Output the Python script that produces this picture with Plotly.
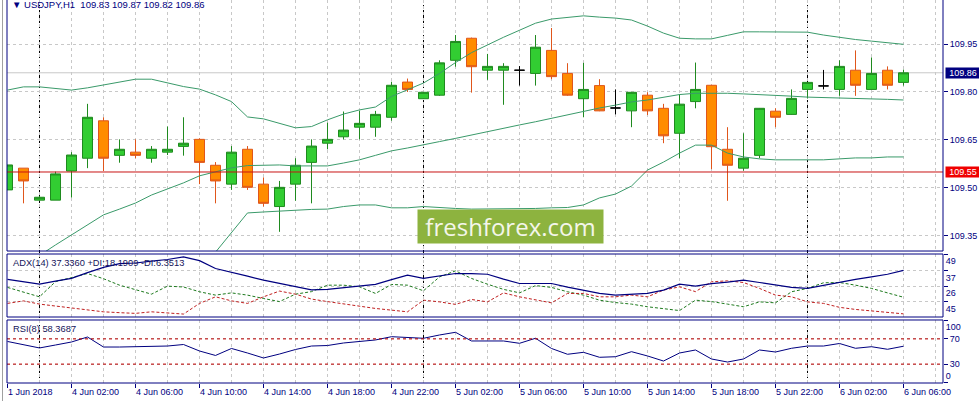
import plotly.graph_objects as go

# ---------------- data ----------------
bars = list(range(-2, 55))  # hourly bars, 0 = 4 Jun 00:00

open_ = [109.494, 109.562, 109.462, 109.462, 109.553, 109.593, 109.710, 109.602, 109.612, 109.593,
         109.612, 109.630, 109.652, 109.571, 109.512, 109.621, 109.512, 109.442, 109.512, 109.580,
         109.640, 109.660, 109.690, 109.690, 109.721, 109.831, 109.779, 109.790, 109.899, 109.968,
         109.868, 109.868, 109.868, 109.858, 109.930, 109.858, 109.779, 109.820, 109.750, 109.741,
         109.790, 109.749, 109.671, 109.770, 109.821, 109.621, 109.562, 109.602, 109.740, 109.730,
         109.808, 109.819, 109.808, 109.868, 109.808, 109.868, 109.830]
high_ = [109.572, 109.562, 109.475, 109.551, 109.612, 109.763, 109.721, 109.652, 109.652, 109.631,
         109.692, 109.721, 109.655, 109.581, 109.631, 109.631, 109.533, 109.522, 109.593, 109.652,
         109.704, 109.739, 109.741, 109.741, 109.832, 109.842, 109.800, 109.899, 109.978, 109.970,
         109.919, 109.890, 109.881, 109.978, 110.000, 109.890, 109.891, 109.840, 109.808, 109.800,
         109.799, 109.763, 109.793, 109.892, 109.822, 109.690, 109.671, 109.750, 109.749, 109.808,
         109.831, 109.869, 109.899, 109.930, 109.908, 109.880, 109.870]
low_ = [109.494, 109.452, 109.460, 109.462, 109.470, 109.562, 109.553, 109.579, 109.593, 109.579,
        109.603, 109.601, 109.512, 109.452, 109.494, 109.494, 109.442, 109.363, 109.460, 109.452,
        109.621, 109.652, 109.652, 109.660, 109.710, 109.800, 109.778, 109.788, 109.879, 109.798,
        109.838, 109.760, 109.820, 109.820, 109.840, 109.788, 109.721, 109.740, 109.730, 109.690,
        109.728, 109.640, 109.593, 109.749, 109.559, 109.460, 109.554, 109.593, 109.690, 109.729,
        109.780, 109.808, 109.788, 109.788, 109.807, 109.808, 109.820]
close_ = [109.572, 109.522, 109.471, 109.544, 109.603, 109.721, 109.593, 109.621, 109.602, 109.621,
          109.621, 109.640, 109.580, 109.522, 109.612, 109.502, 109.452, 109.502, 109.571, 109.631,
          109.652, 109.681, 109.702, 109.730, 109.821, 109.808, 109.799, 109.891, 109.958, 109.879,
          109.880, 109.880, 109.868, 109.940, 109.848, 109.790, 109.808, 109.741, 109.750, 109.799,
          109.741, 109.663, 109.762, 109.808, 109.629, 109.571, 109.593, 109.749, 109.721, 109.780,
          109.830, 109.819, 109.880, 109.821, 109.858, 109.821, 109.860]

bb_upper = [109.806, 109.816, 109.816, 109.811, 109.806, 109.813, 109.822, 109.831, 109.840, 109.840,
            109.828, 109.817, 109.809, 109.791, 109.770, 109.722, 109.716, 109.702, 109.688, 109.692,
            109.713, 109.731, 109.744, 109.753, 109.786, 109.807, 109.828, 109.858, 109.892, 109.923,
            109.948, 109.971, 109.993, 110.015, 110.028, 110.033, 110.038, 110.034, 110.031, 110.025,
            110.006, 109.984, 109.968, 109.966, 109.966, 109.977, 109.988, 109.988, 109.988, 109.987,
            109.987, 109.978, 109.970, 109.964, 109.959, 109.953, 109.949]
bb_middle = [109.225, 109.256, 109.289, 109.322, 109.353, 109.384, 109.416, 109.434, 109.453, 109.478,
             109.497, 109.516, 109.538, 109.550, 109.563, 109.570, 109.572, 109.572, 109.569, 109.569,
             109.569, 109.578, 109.588, 109.602, 109.616, 109.625, 109.634, 109.645, 109.655, 109.666,
             109.676, 109.687, 109.697, 109.707, 109.718, 109.728, 109.738, 109.750, 109.759, 109.769,
             109.775, 109.784, 109.792, 109.796, 109.797, 109.796, 109.794, 109.792, 109.791, 109.787,
             109.784, 109.783, 109.781, 109.780, 109.778, 109.777, 109.775]
bb_lower = [None, None, None, None, None, None, None, None, None, None,
            None, None, 109.238, 109.300, 109.362, 109.422, 109.425, 109.428, 109.431, 109.433,
            109.434, 109.442, 109.447, 109.447, 109.438, 109.438, 109.442, 109.438, 109.436, 109.434,
            109.434, 109.434, 109.434, 109.436, 109.438, 109.439, 109.447, 109.469, 109.481, 109.506,
            109.556, 109.581, 109.609, 109.634, 109.634, 109.609, 109.597, 109.591, 109.588, 109.588,
            109.588, 109.588, 109.591, 109.594, 109.594, 109.597, 109.597]

adx = [30.9, 29.3, 27.5, 29.7, 31.6, 35.7, 39.5, 42.2, 42.6, 43.9,
       45.1, 47.0, 44.3, 38.7, 36.2, 33.2, 30.4, 27.9, 25.6, 23.4,
       23.8, 25.0, 26.1, 27.4, 30.8, 33.9, 31.7, 33.2, 35.1, 35.1,
       34.6, 31.1, 28.0, 28.0, 28.0, 25.4, 23.3, 20.9, 19.7, 20.4,
       20.9, 23.3, 27.5, 26.1, 27.9, 29.0, 30.4, 28.7, 26.8, 25.2,
       24.5, 26.8, 28.7, 30.9, 32.7, 34.6, 37.34]
plus_di = [25.2, 21.8, 18.5, 29.3, 32.3, 35.1, 31.4, 26.8, 23.6, 20.4,
           26.1, 25.5, 22.1, 19.7, 21.3, 19.7, 17.3, 15.1, 20.4, 22.2,
           26.8, 26.8, 25.6, 20.9, 27.3, 26.8, 22.8, 32.7, 37.0, 31.6,
           27.5, 23.8, 21.3, 26.5, 25.2, 22.1, 19.7, 16.1, 14.4, 13.3,
           11.4, 10.1, 8.7, 16.1, 15.1, 13.3, 11.4, 14.9, 14.2, 22.1,
           24.5, 28.5, 28.7, 26.8, 24.5, 21.3, 18.19]
minus_di = [13.8, 15.6, 13.3, 11.9, 10.2, 9.0, 7.8, 7.2, 6.7, 7.8,
            6.9, 6.2, 13.8, 18.5, 15.6, 13.8, 18.5, 22.6, 20.4, 16.9,
            15.1, 13.3, 11.5, 10.2, 9.0, 7.8, 16.1, 14.9, 13.1, 16.6,
            14.9, 21.3, 18.5, 16.1, 14.2, 20.9, 20.9, 18.5, 18.5, 19.7,
            18.5, 23.3, 25.6, 22.2, 29.2, 29.9, 28.7, 24.5, 19.7, 18.5,
            14.9, 13.8, 11.0, 9.5, 8.5, 7.8, 6.35]
rsi = [65.9, 60.3, 55.6, 60.3, 65.1, 73.0, 57.1, 57.1, 57.9, 57.9,
       58.7, 61.1, 50.8, 43.7, 54.8, 47.6, 39.7, 46.0, 53.2, 58.7,
       59.5, 63.5, 65.6, 68.3, 73.5, 72.2, 71.0, 76.2, 80.5, 66.7,
       66.7, 66.7, 63.0, 71.0, 54.8, 45.6, 48.7, 40.8, 41.7, 49.7,
       42.9, 34.9, 47.6, 52.4, 38.1, 33.3, 38.1, 52.4, 49.2, 55.1,
       58.7, 58.7, 62.7, 55.1, 57.6, 53.5, 58.37]

time_tick_bars = [-2, 2, 6, 10, 14, 18, 22, 26, 30, 34, 38, 42, 46, 50, 54]
time_tick_labels = ["1 Jun 2018", "4 Jun 02:00", "4 Jun 06:00", "4 Jun 10:00", "4 Jun 14:00",
                    "4 Jun 18:00", "4 Jun 22:00", "5 Jun 02:00", "5 Jun 06:00", "5 Jun 10:00",
                    "5 Jun 14:00", "5 Jun 18:00", "5 Jun 22:00", "6 Jun 02:00", "6 Jun 06:00"]
day_separators = [0, 24, 48]
price_ticks = [109.35, 109.50, 109.65, 109.80, 109.95]
price_tick_labels = ["109.35", "109.50", "109.65", "109.80", "109.95"]
adx_ticks = [49, 37, 26, 15]
adx_tick_labels = ["49", "37", "26", "45"]
rsi_levels = [70, 30]
bid_price = 109.86
hline_price = 109.55
header_text = "\u25bc USDJPY,H1\u00a0\u00a0109.83 109.87 109.82 109.86"
adx_text = "ADX(14) 37.3360 +DI:18.1909 -DI:6.3513"
rsi_text = "RSI(8) 58.3687"

# ---------------- styling ----------------
NAVY = "#000080"
GRID = "#C8C8C8"
FONT = "Liberation Sans, Arial, sans-serif"
BAND = "#3A9A6A"

reg = [k for k in range(len(bars)) if open_[k] != close_[k]]
doj = [k for k in range(len(bars)) if open_[k] == close_[k]]

fig = go.Figure()

for band in (bb_upper, bb_middle, bb_lower):
    fig.add_trace(go.Scatter(x=bars, y=band, mode="lines", line=dict(color=BAND, width=1),
                             hoverinfo="skip", showlegend=False, xaxis="x", yaxis="y"))

fig.add_trace(go.Candlestick(
    x=[bars[k] for k in reg], open=[open_[k] for k in reg], high=[high_[k] for k in reg],
    low=[low_[k] for k in reg], close=[close_[k] for k in reg],
    increasing=dict(line=dict(color="#1F8A1F", width=1), fillcolor="#32CD32"),
    decreasing=dict(line=dict(color="#E0561B", width=1), fillcolor="#FF8C00"),
    whiskerwidth=0, hoverinfo="skip", showlegend=False, xaxis="x", yaxis="y"))
fig.add_trace(go.Candlestick(
    x=[bars[k] for k in doj], open=[open_[k] for k in doj], high=[high_[k] for k in doj],
    low=[low_[k] for k in doj], close=[close_[k] for k in doj],
    increasing=dict(line=dict(color="#000000", width=1), fillcolor="#000000"),
    decreasing=dict(line=dict(color="#000000", width=1), fillcolor="#000000"),
    whiskerwidth=0, hoverinfo="skip", showlegend=False, xaxis="x", yaxis="y"))

fig.add_trace(go.Scatter(x=bars, y=plus_di, mode="lines", line=dict(color="#1E7A1E", width=1, dash="3px,2px"),
                         hoverinfo="skip", showlegend=False, xaxis="x", yaxis="y2"))
fig.add_trace(go.Scatter(x=bars, y=minus_di, mode="lines", line=dict(color="#C02020", width=1, dash="3px,2px"),
                         hoverinfo="skip", showlegend=False, xaxis="x", yaxis="y2"))
fig.add_trace(go.Scatter(x=bars, y=adx, mode="lines", line=dict(color=NAVY, width=1.2),
                         hoverinfo="skip", showlegend=False, xaxis="x", yaxis="y2"))
fig.add_trace(go.Scatter(x=bars, y=rsi, mode="lines", line=dict(color=NAVY, width=1),
                         hoverinfo="skip", showlegend=False, xaxis="x", yaxis="y3"))
# carriers for the extra RSI label axes
fig.add_trace(go.Scatter(x=[None], y=[None], hoverinfo="skip", showlegend=False, xaxis="x", yaxis="y4"))
fig.add_trace(go.Scatter(x=[None], y=[None], hoverinfo="skip", showlegend=False, xaxis="x", yaxis="y5"))

# geometry (plot area 936 x 383 px)
D_MAIN = [0.3446, 1.0]
D_ADX = [0.1723, 0.3368]
D_RSI = [0.0, 0.1645]

tickfont = dict(family=FONT, size=9, color=NAVY)
yax_common = dict(side="right", anchor="x", ticks="outside", ticklen=4, tickcolor=NAVY, tickwidth=1,
                  tickfont=tickfont, showgrid=True, gridcolor=GRID, gridwidth=1, griddash="3px,3px",
                  zeroline=False, showline=False, fixedrange=True)

fig.update_layout(
    width=979, height=401,
    margin=dict(l=7, r=36, t=0, b=18),
    paper_bgcolor="white", plot_bgcolor="white",
    hovermode=False, showlegend=False,
    boxgap=0.375, boxgroupgap=0,
    xaxis=dict(domain=[0, 1], range=[-2.031, 56.469], anchor="y3",
               tickmode="array", tickvals=time_tick_bars, ticktext=time_tick_labels,
               ticks="outside", ticklen=4, tickcolor=NAVY, tickwidth=1,
               ticklabelposition="outside right", tickfont=tickfont,
               showgrid=True, gridcolor=GRID, gridwidth=1, griddash="3px,3px",
               minor=dict(tickmode="linear", tick0=0, dtick=2, showgrid=True, gridcolor=GRID,
                          gridwidth=1, griddash="3px,3px", ticks=""),
               zeroline=False, showline=False, rangeslider=dict(visible=False), fixedrange=True),
    yaxis=dict(domain=D_MAIN, range=[109.303, 110.0875], tickmode="array",
               tickvals=price_ticks, ticktext=price_tick_labels, **yax_common),
    yaxis2=dict(domain=D_ADX, range=[4.1, 49.02], tickmode="array",
                tickvals=adx_ticks, ticktext=adx_tick_labels, ticklabelposition="outside bottom",
                **yax_common),
    yaxis3=dict(domain=D_RSI, range=[0, 100], tickmode="array",
                tickvals=rsi_levels, ticktext=[str(v) for v in rsi_levels], **yax_common),
    yaxis4=dict(overlaying="y3", range=[-0.05, 100.05], tickmode="array", tickvals=[100], ticktext=["100"],
                ticklabelposition="outside bottom", **{**yax_common, "showgrid": False}),
    yaxis5=dict(overlaying="y3", range=[-0.05, 100.05], tickmode="array", tickvals=[0], ticktext=["0"],
                ticklabelposition="outside top", **{**yax_common, "showgrid": False}),
)

shapes = []
# day separators across all panes
for b in day_separators:
    shapes.append(dict(type="line", xref="x", yref="paper", x0=b, x1=b, y0=0, y1=1,
                       line=dict(color="#000000", width=1, dash="3px,2px"), layer="below"))
# bid line and horizontal line object
shapes.append(dict(type="line", xref="paper", yref="y", x0=0, x1=1, y0=bid_price, y1=bid_price,
                   line=dict(color="#C8C8C8", width=1), layer="below"))
shapes.append(dict(type="line", xref="paper", yref="y", x0=0, x1=1, y0=hline_price, y1=hline_price,
                   line=dict(color="#C81414", width=1), layer="above"))
# RSI levels
for lv in rsi_levels:
    shapes.append(dict(type="line", xref="paper", yref="y3", x0=0, x1=1, y0=lv, y1=lv,
                       line=dict(color="#C00000", width=1, dash="3px,3px"), layer="above"))
# pane borders
for (y0, y1) in (D_ADX, D_RSI):
    shapes.append(dict(type="rect", xref="paper", yref="paper", x0=0, x1=1, y0=y0, y1=y1,
                       line=dict(color=NAVY, width=1), layer="above"))
shapes.append(dict(type="line", xref="paper", yref="paper", x0=0, x1=0, y0=D_MAIN[0], y1=1,
                   line=dict(color=NAVY, width=1)))
shapes.append(dict(type="line", xref="paper", yref="paper", x0=1, x1=1, y0=D_MAIN[0], y1=1,
                   line=dict(color=NAVY, width=1)))
shapes.append(dict(type="line", xref="paper", yref="paper", x0=0, x1=1, y0=D_MAIN[0], y1=D_MAIN[0],
                   line=dict(color=NAVY, width=1)))
# window frame at far left
shapes.append(dict(type="line", xref="paper", yref="paper", x0=-4.5 / 936, x1=-4.5 / 936, y0=-18 / 383, y1=1,
                   line=dict(color="#A0A0A0", width=1)))
fig.update_layout(shapes=shapes)

ann = []
ann.append(dict(xref="paper", yref="paper", x=0, y=(383 - 4.5) / 383, xanchor="left", yanchor="middle",
                xshift=3, text=header_text, showarrow=False, font=dict(family=FONT, size=9.5, color=NAVY)))
ann.append(dict(xref="paper", yref="paper", x=0, y=(383 - 262.5) / 383, xanchor="left", yanchor="middle",
                xshift=4, text=adx_text, showarrow=False, font=dict(family=FONT, size=9.3, color="#14145A")))
ann.append(dict(xref="paper", yref="paper", x=0, y=(383 - 329) / 383, xanchor="left", yanchor="middle",
                xshift=4, text=rsi_text, showarrow=False, font=dict(family=FONT, size=9.3, color="#14145A")))
ann.append(dict(xref="paper", yref="paper", x=(510.5 - 7) / 936, y=(383 - 226.5) / 383,
                xanchor="center", yanchor="middle", text="freshforex.com", showarrow=False,
                width=185, height=33, bgcolor="#8DB33F", borderpad=0,
                font=dict(family="Open Sans, sans-serif", size=24, color="#F4F6EA")))
ann.append(dict(xref="paper", yref="y", x=1, y=bid_price, xanchor="left", yanchor="middle", xshift=2,
                text="109.86", showarrow=False, width=34, height=10, borderpad=0, bgcolor=NAVY,
                font=dict(family=FONT, size=9, color="white")))
ann.append(dict(xref="paper", yref="y", x=1, y=hline_price, xanchor="left", yanchor="middle", xshift=2,
                text="109.55", showarrow=False, width=34, height=10, borderpad=0, bgcolor="#F00000",
                font=dict(family=FONT, size=9, color="white")))
fig.update_layout(annotations=ann)

fig.write_html("out.html", config=dict(displayModeBar=False),
               post_script="document.body.style.margin='0';document.body.style.padding='0';"
                           "document.body.style.overflow='hidden';")
